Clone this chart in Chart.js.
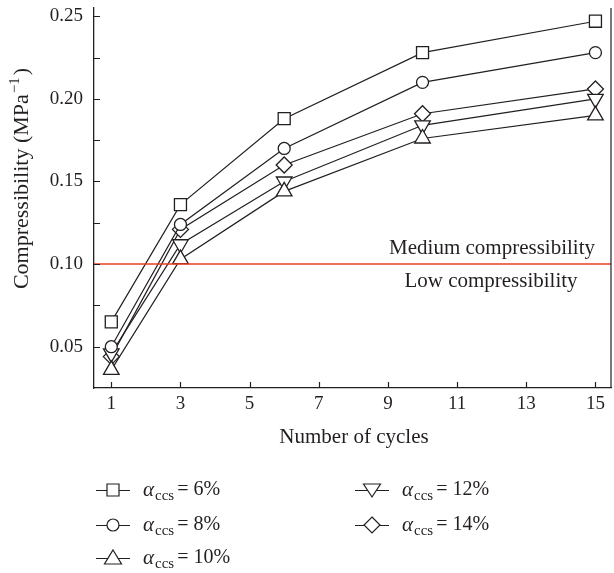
<!DOCTYPE html>
<html>
<head>
<meta charset="utf-8">
<script src="https://cdn.jsdelivr.net/npm/chart.js"></script>
<style>
  html, body { margin: 0; padding: 0; background: #fff; }
  canvas { display: block; }
</style>
</head>
<body>
<canvas id="compresibilidad" width="614" height="573"></canvas>
<script>
// datos
const cycles = [1, 3, 6, 10, 15];
const ccs6  = [0.065, 0.136, 0.188, 0.228, 0.247];
const ccs8  = [0.050, 0.124, 0.170, 0.210, 0.228];
const ccs10 = [0.036, 0.103, 0.144, 0.176, 0.190];
const ccs12 = [0.046, 0.112, 0.150, 0.184, 0.200];
const ccs14 = [0.044, 0.121, 0.160, 0.191, 0.206];
const seriesLabels = ['6%', '8%', '10%', '12%', '14%'];
const xTicks = [1, 3, 5, 7, 9, 11, 13, 15];
const yTicks = [0.05, 0.075, 0.10, 0.125, 0.15, 0.175, 0.20, 0.225, 0.25];
const limitLine = [0.10, 0.10];
const limitX = [0.5, 15.45];

const FONT = "'Liberation Serif', 'DejaVu Serif', serif";
const INK = '#231f20';

function pts(values) {
    return cycles.map((c, i) => ({ x: c, y: values[i] }));
}

function serie(label, values, style, radius, rotation) {
    return {
        label: label,
        data: pts(values),
        borderColor: INK,
        borderWidth: 1.2,
        backgroundColor: '#fff',
        pointStyle: style,
        pointRadius: radius,
        pointRotation: rotation || 0,
        pointBorderWidth: 1.3,
        pointBackgroundColor: '#fff',
        pointBorderColor: INK,
        tension: 0,
        fill: false,
        clip: false
    };
}

// marcador pequeño para la leyenda
function marker(ctx, type, x, y) {
    ctx.beginPath();
    if (type === 'rect') {
        ctx.rect(x - 6, y - 6, 12, 12);
    } else if (type === 'circle') {
        ctx.arc(x, y, 6, 0, Math.PI * 2);
    } else if (type === 'triangle') {
        ctx.moveTo(x, y - 8); ctx.lineTo(x + 8.5, y + 6); ctx.lineTo(x - 8.5, y + 6); ctx.closePath();
    } else if (type === 'down') {
        ctx.moveTo(x, y + 7); ctx.lineTo(x + 8.5, y - 6); ctx.lineTo(x - 8.5, y - 6); ctx.closePath();
    } else {
        ctx.moveTo(x, y - 8); ctx.lineTo(x + 8, y); ctx.lineTo(x, y + 8); ctx.lineTo(x - 8, y); ctx.closePath();
    }
    ctx.fillStyle = '#fff';
    ctx.fill();
    ctx.stroke();
}

const extras = {
    id: 'extras',
    afterDraw(chart) {
        const ctx = chart.ctx;
        const area = chart.chartArea;
        const xs = chart.scales.x;
        const ys = chart.scales.y;
        ctx.save();
        ctx.strokeStyle = INK;
        ctx.lineWidth = 1.2;

        // ticks hacia dentro
        ctx.beginPath();
        xTicks.forEach(v => {
            const px = Math.round(xs.getPixelForValue(v)) + 0.5;
            ctx.moveTo(px, area.bottom);
            ctx.lineTo(px, area.bottom - 6);
        });
        yTicks.forEach(v => {
            const py = Math.round(ys.getPixelForValue(v)) + 0.5;
            ctx.moveTo(area.left, py);
            ctx.lineTo(area.left + 6, py);
        });
        // borde derecho
        ctx.moveTo(area.right, area.top);
        ctx.lineTo(area.right, area.bottom);
        ctx.stroke();

        ctx.fillStyle = INK;
        ctx.textBaseline = 'middle';

        // etiquetas eje x
        ctx.font = '19px ' + FONT;
        ctx.textAlign = 'center';
        xTicks.forEach(v => {
            ctx.fillText(String(v), xs.getPixelForValue(v), area.bottom + 16);
        });

        // textos de zonas
        ctx.font = '21px ' + FONT;
        ctx.textAlign = 'right';
        ctx.fillText('Medium compressibility', 595, 248);
        ctx.textAlign = 'center';
        ctx.fillText('Low compressibility', 491, 281);

        // titulo eje x
        ctx.fillText('Number of cycles', 354, 437);

        // titulo eje y
        ctx.save();
        ctx.translate(22, 180);
        ctx.rotate(-Math.PI / 2);
        ctx.textAlign = 'left';
        const main = 'Compressibility (MPa';
        ctx.font = '22px ' + FONT;
        const w1 = ctx.measureText(main).width;
        ctx.font = '15px ' + FONT;
        const w2 = ctx.measureText('\u22121').width;
        ctx.font = '22px ' + FONT;
        const w3 = ctx.measureText(')').width;
        let x0 = -(w1 + w2 + w3) / 2;
        ctx.fillText(main, x0, 0);
        ctx.font = '15px ' + FONT;
        ctx.fillText('\u22121', x0 + w1 + 1, -7);
        ctx.font = '22px ' + FONT;
        ctx.fillText(')', x0 + w1 + w2 + 3, 0);
        ctx.restore();

        // leyenda
        const styles = ['rect', 'circle', 'triangle', 'down', 'diamond'];
        const places = [[96, 490], [96, 525], [96, 558], [355, 490], [355, 525]];
        seriesLabels.forEach((lab, i) => {
            const [lx, ly] = places[i];
            ctx.strokeStyle = INK;
            ctx.lineWidth = 1.2;
            ctx.beginPath();
            ctx.moveTo(lx, ly + 0.5);
            ctx.lineTo(lx + 34, ly + 0.5);
            ctx.stroke();
            marker(ctx, styles[i], lx + 17, ly);
            ctx.fillStyle = INK;
            ctx.textAlign = 'left';
            let tx = lx + 47;
            ctx.font = 'italic 21px ' + FONT;
            ctx.fillText('\u03b1', tx, ly);
            tx += ctx.measureText('\u03b1').width + 1;
            ctx.font = '15px ' + FONT;
            ctx.fillText('ccs', tx, ly + 6);
            tx += ctx.measureText('ccs').width + 3;
            ctx.font = '20px ' + FONT;
            ctx.fillText('= ' + lab, tx, ly);
        });
        ctx.restore();
    }
};

const ctx = document.getElementById('compresibilidad').getContext('2d');

new Chart(ctx, {
    type: 'line',
    data: {
        datasets: [
            {
                label: 'limite',
                data: limitX.map((x, i) => ({ x: x, y: limitLine[i] })),
                borderColor: '#ee3b24',
                borderWidth: 1.5,
                pointRadius: 0,
                fill: false
            },
            serie('6%', ccs6, 'rect', 8.5),
            serie('8%', ccs8, 'circle', 6),
            serie('10%', ccs10, 'triangle', 9),
            serie('12%', ccs12, 'triangle', 9, 180),
            serie('14%', ccs14, 'rectRot', 8)
        ]
    },
    options: {
        responsive: false,
        animation: false,
        layout: { autoPadding: false, padding: { top: 8, right: 3, left: 0, bottom: 145 } },
        scales: {
            x: {
                type: 'linear',
                min: 0.5,
                max: 15.45,
                afterBuildTicks: scale => { scale.ticks = xTicks.map(v => ({ value: v })); },
                afterFit: scale => {
                    scale.height = 40;
                    scale.paddingLeft = 0;
                    scale.paddingRight = 0;
                },
                grid: { display: false, drawTicks: false },
                border: { display: true, color: INK, width: 1.3 },
                ticks: { display: false }
            },
            y: {
                min: 0.025,
                max: 0.255,
                afterBuildTicks: scale => { scale.ticks = yTicks.map(v => ({ value: v })); },
                afterFit: scale => {
                    scale.width = 94;
                    scale.paddingTop = 0;
                    scale.paddingBottom = 0;
                },
                grid: { display: false, drawTicks: false },
                border: { display: true, color: INK, width: 1.3 },
                ticks: {
                    color: INK,
                    padding: 11,
                    font: { family: FONT, size: 19 },
                    callback: v => (Math.round(v * 1000) % 50 === 0 ? v.toFixed(2) : '')
                }
            }
        },
        plugins: {
            legend: { display: false },
            tooltip: { enabled: false }
        }
    },
    plugins: [extras]
});
</script>
</body>
</html>
